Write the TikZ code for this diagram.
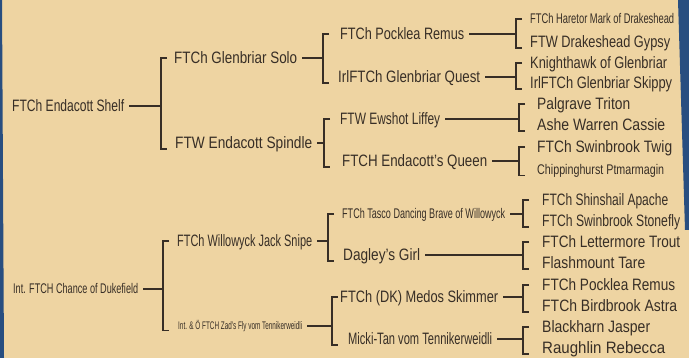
\documentclass[tikz,border=0pt]{standalone}
\usepackage{fontspec}
\setmainfont[FakeStretch=0.8]{Liberation Sans}
\definecolor{bg}{RGB}{238,212,162}
\definecolor{ink}{RGB}{55,46,38}
\definecolor{edge}{RGB}{40,78,128}
\newsavebox\fwbox
\newlength\fwlen
\newcommand\fw[2]{\sbox\fwbox{#2}\setlength\fwlen{\wd\fwbox}\pgfmathsetmacro\fwr{#1/\fwlen}\scalebox{\fwr}[1]{\usebox\fwbox}}
\newcommand\brk[5]{%
  \coordinate (#1) at (#2,0);
  \draw[conn] ([xshift=5pt]#3.east) -- (#3.east -| #1);
  \draw[conn] (#1 |- #4.center) ++(6,0) -- (#1 |- #4.center) -- (#1 |- #5.south) -- ++(6,0);
}
\tikzset{
  txt/.style={anchor=west, inner sep=0pt, text=ink, text height=11.8pt, text depth=0pt, font=\fontsize{16.5}{16.5}\selectfont},
  sm/.style={txt, text height=10pt, font=\fontsize{14}{14}\selectfont},
  xs/.style={txt, text height=8pt, font=\fontsize{11}{11}\selectfont},
  conn/.style={draw=ink, line width=1.3pt},
}
\begin{document}
\begin{tikzpicture}[x=1pt,y=-1pt]
\useasboundingbox (0,0) rectangle (689,358);
\fill[bg] (0,0) rectangle (689,358);
\fill[edge] (0,0) -- (2,0) -- (4,358) -- (0,358) -- cycle;
\fill[edge] (678,0) -- (689,0) -- (689,230) -- (685,230) -- cycle;
% generation 1
\node[txt] (a) at (12,106) {\fw{112}{FTCh Endacott Shelf}};
\node[sm] (b) at (13,289) {\fw{125}{Int. FTCH Chance of Dukefield}};
% generation 2
\node[txt] (c) at (174,58) {\fw{123}{FTCh Glenbriar Solo}};
\node[txt] (d) at (175,143) {\fw{137}{FTW Endacott Spindle}};
\node[txt] (e) at (177,241) {\fw{135}{FTCh Willowyck Jack Snipe}};
\node[xs] (f) at (178,326) {\fw{124}{Int. \& Ö FTCH Zad's Fly vom Tennikerweidli}};
% generation 3
\node[txt] (g) at (340,34) {\fw{124}{FTCh Pocklea Remus}};
\node[txt] (h) at (338,77) {\fw{142}{IrlFTCh Glenbriar Quest}};
\node[txt] (i) at (340,119) {\fw{100}{FTW Ewshot Liffey}};
\node[txt] (j) at (342,161) {\fw{145}{FTCH Endacott's Queen}};
\node[sm] (k) at (342,214) {\fw{163}{FTCh Tasco Dancing Brave of Willowyck}};
\node[txt] (l) at (343,255) {\fw{77}{Dagley's Girl}};
\node[txt] (m) at (340,297) {\fw{158}{FTCh (DK) Medos Skimmer}};
\node[txt] (n) at (348,339) {\fw{144}{Micki-Tan vom Tennikerweidli}};
% generation 4
\node[sm] (o1) at (530,19) {\fw{144}{FTCh Haretor Mark of Drakeshead}};
\node[txt] (o2) at (530,42) {\fw{140}{FTW Drakeshead Gypsy}};
\node[txt] (o3) at (530,63) {\fw{137}{Knighthawk of Glenbriar}};
\node[txt] (o4) at (530,83) {\fw{142}{IrlFTCh Glenbriar Skippy}};
\node[txt] (o5) at (537,104) {\fw{93}{Palgrave Triton}};
\node[txt] (o6) at (537,125) {\fw{128}{Ashe Warren Cassie}};
\node[txt] (o7) at (537,147) {\fw{135}{FTCh Swinbrook Twig}};
\node[sm] (o8) at (537,170) {\fw{127}{Chippinghurst Ptmarmagin}};
\node[txt] (o9) at (542,200) {\fw{126}{FTCh Shinshail Apache}};
\node[txt] (o10) at (542,221) {\fw{138}{FTCh Swinbrook Stonefly}};
\node[txt] (o11) at (542,242) {\fw{138}{FTCh Lettermore Trout}};
\node[txt] (o12) at (542,263) {\fw{103}{Flashmount Tare}};
\node[txt] (o13) at (542,285) {\fw{133}{FTCh Pocklea Remus}};
\node[txt] (o14) at (542,306) {\fw{135}{FTCh Birdbrook Astra}};
\node[txt] (o15) at (542,327) {\fw{108}{Blackharn Jasper}};
\node[txt] (o16) at (542,348) {\fw{123}{Raughlin Rebecca}};
% brackets and connectors
\brk{ba}{161}{a}{c}{d}
\brk{bb}{163}{b}{e}{f}
\brk{bc}{323}{c}{g}{h}
\brk{bd}{324}{d}{i}{j}
\brk{be}{328}{e}{k}{l}
\brk{bf}{332}{f}{m}{n}
\brk{bg}{516}{g}{o1}{o2}
\brk{bh}{516}{h}{o3}{o4}
\brk{bi}{519}{i}{o5}{o6}
\brk{bj}{519}{j}{o7}{o8}
\brk{bk}{523}{k}{o9}{o10}
\brk{bl}{523}{l}{o11}{o12}
\brk{bm}{523}{m}{o13}{o14}
\brk{bn}{523}{n}{o15}{o16}
\end{tikzpicture}
\end{document}
